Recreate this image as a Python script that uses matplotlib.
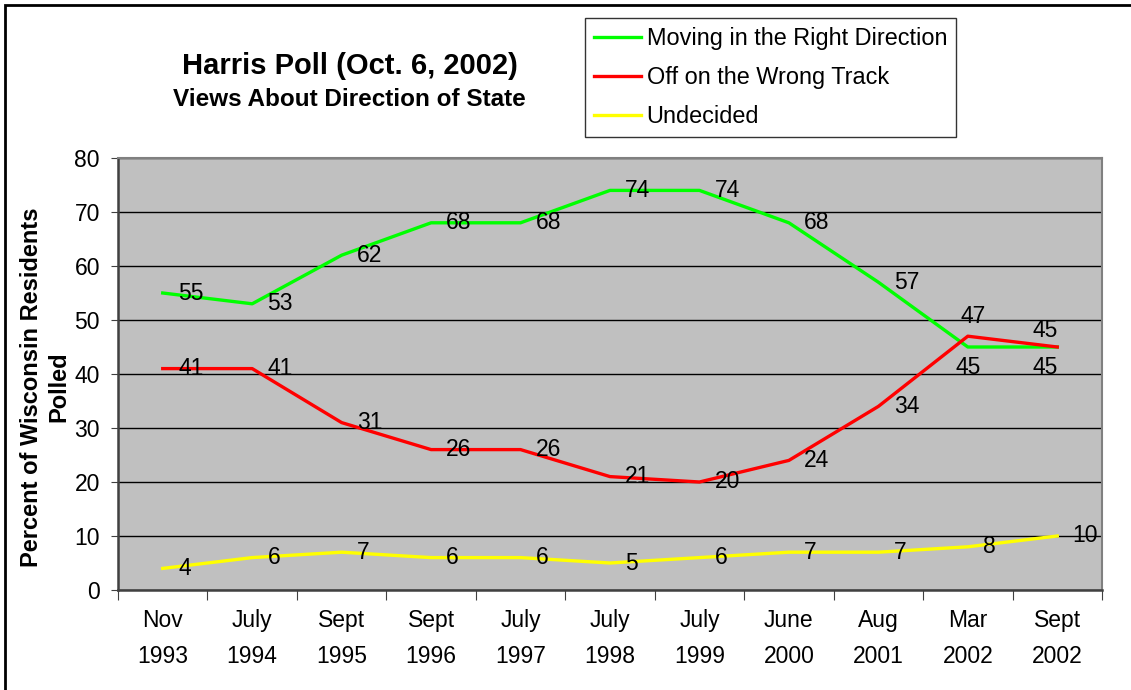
import matplotlib.pyplot as plt
import numpy as np
from matplotlib.patches import Rectangle

months = ["Nov", "July", "Sept", "Sept", "July", "July", "July", "June", "Aug", "Mar", "Sept"]
years = ["1993", "1994", "1995", "1996", "1997", "1998", "1999", "2000", "2001", "2002", "2002"]
right_direction = [55, 53, 62, 68, 68, 74, 74, 68, 57, 45, 45]
wrong_track = [41, 41, 31, 26, 26, 21, 20, 24, 34, 47, 45]
undecided = [4, 6, 7, 6, 6, 5, 6, 7, 7, 8, 10]

series = [
    ("Moving in the Right Direction", right_direction, "#00FF00"),
    ("Off on the Wrong Track", wrong_track, "#FF0000"),
    ("Undecided", undecided, "#FFFF00"),
]

# label offsets in points (dx, dy); default sits right of the point
label_offsets = {
    ("Moving in the Right Direction", 9): (0, -15),
    ("Moving in the Right Direction", 10): (-9, -15),
    ("Off on the Wrong Track", 9): (4, 14),
    ("Off on the Wrong Track", 10): (-9, 12),
}

plt.rcParams["font.family"] = ["Liberation Sans", "DejaVu Sans"]

fig = plt.figure(figsize=(11.31, 6.90), dpi=100)
ax = fig.add_axes([118 / 1131, 100 / 690, 984 / 1131, 432 / 690])
ax.set_facecolor("#C0C0C0")

x = np.arange(len(months))
for name, vals, color in series:
    ax.plot(x, vals, color=color, linewidth=2.4, label=name, zorder=3,
            solid_joinstyle="round")
    for i, v in enumerate(vals):
        dx, dy = label_offsets.get((name, i), (11, 0))
        ax.annotate(str(v), (x[i], v), xytext=(dx, dy), textcoords="offset points",
                    ha="left" if dx > 5 else "center", va="center",
                    fontsize=16.5, zorder=4)

ax.set_xlim(-0.5, len(months) - 0.5)
ax.set_ylim(0, 80)
ax.set_yticks(range(0, 81, 10))
ax.tick_params(axis="y", labelsize=16.5, length=5, color="#404040", pad=8)
ax.yaxis.grid(True, color="black", linewidth=1)
ax.set_axisbelow(True)

ax.set_xticks(np.arange(-0.5, len(months), 1.0))
ax.set_xticklabels([])
ax.tick_params(axis="x", length=7, color="#404040")
ax.set_xticks(x, minor=True)
ax.set_xticklabels([f"{m}\n{y}" for m, y in zip(months, years)], minor=True,
                   fontsize=16.5, linespacing=1.7)
ax.tick_params(axis="x", which="minor", length=0, pad=14)

for side in ["top", "right"]:
    ax.spines[side].set_color("#808080")
    ax.spines[side].set_linewidth(1.5)
for side in ["left", "bottom"]:
    ax.spines[side].set_color("#404040")
    ax.spines[side].set_linewidth(1.8)

ax.set_ylabel("Percent of Wisconsin Residents\nPolled", fontsize=17,
              fontweight="bold", linespacing=1.25, va="center")
ax.yaxis.set_label_coords(-73 / 984, 0.47)

fig.text(350 / 1131, 1 - 66 / 690, "Harris Poll (Oct. 6, 2002)", ha="center",
         va="center", fontsize=21, fontweight="bold")
fig.text(349 / 1131, 1 - 100 / 690, "Views About Direction of State", ha="center",
         va="center", fontsize=17.5, fontweight="bold")

leg = fig.legend(loc="upper left", bbox_to_anchor=(585 / 1131, 1 - 18 / 690),
                 fontsize=16.9, frameon=True, fancybox=False, handlelength=2.0,
                 handletextpad=0.25, labelspacing=0.68, borderpad=0.38,
                 borderaxespad=0)
leg.get_frame().set_edgecolor("black")
leg.get_frame().set_linewidth(1)

fig.patches.append(Rectangle((5 / 1131, -0.1), 1.2, 1.1 - 5 / 690,
                             transform=fig.transFigure, fill=False,
                             edgecolor="black", linewidth=2))

fig.savefig("out.png", dpi=100)
